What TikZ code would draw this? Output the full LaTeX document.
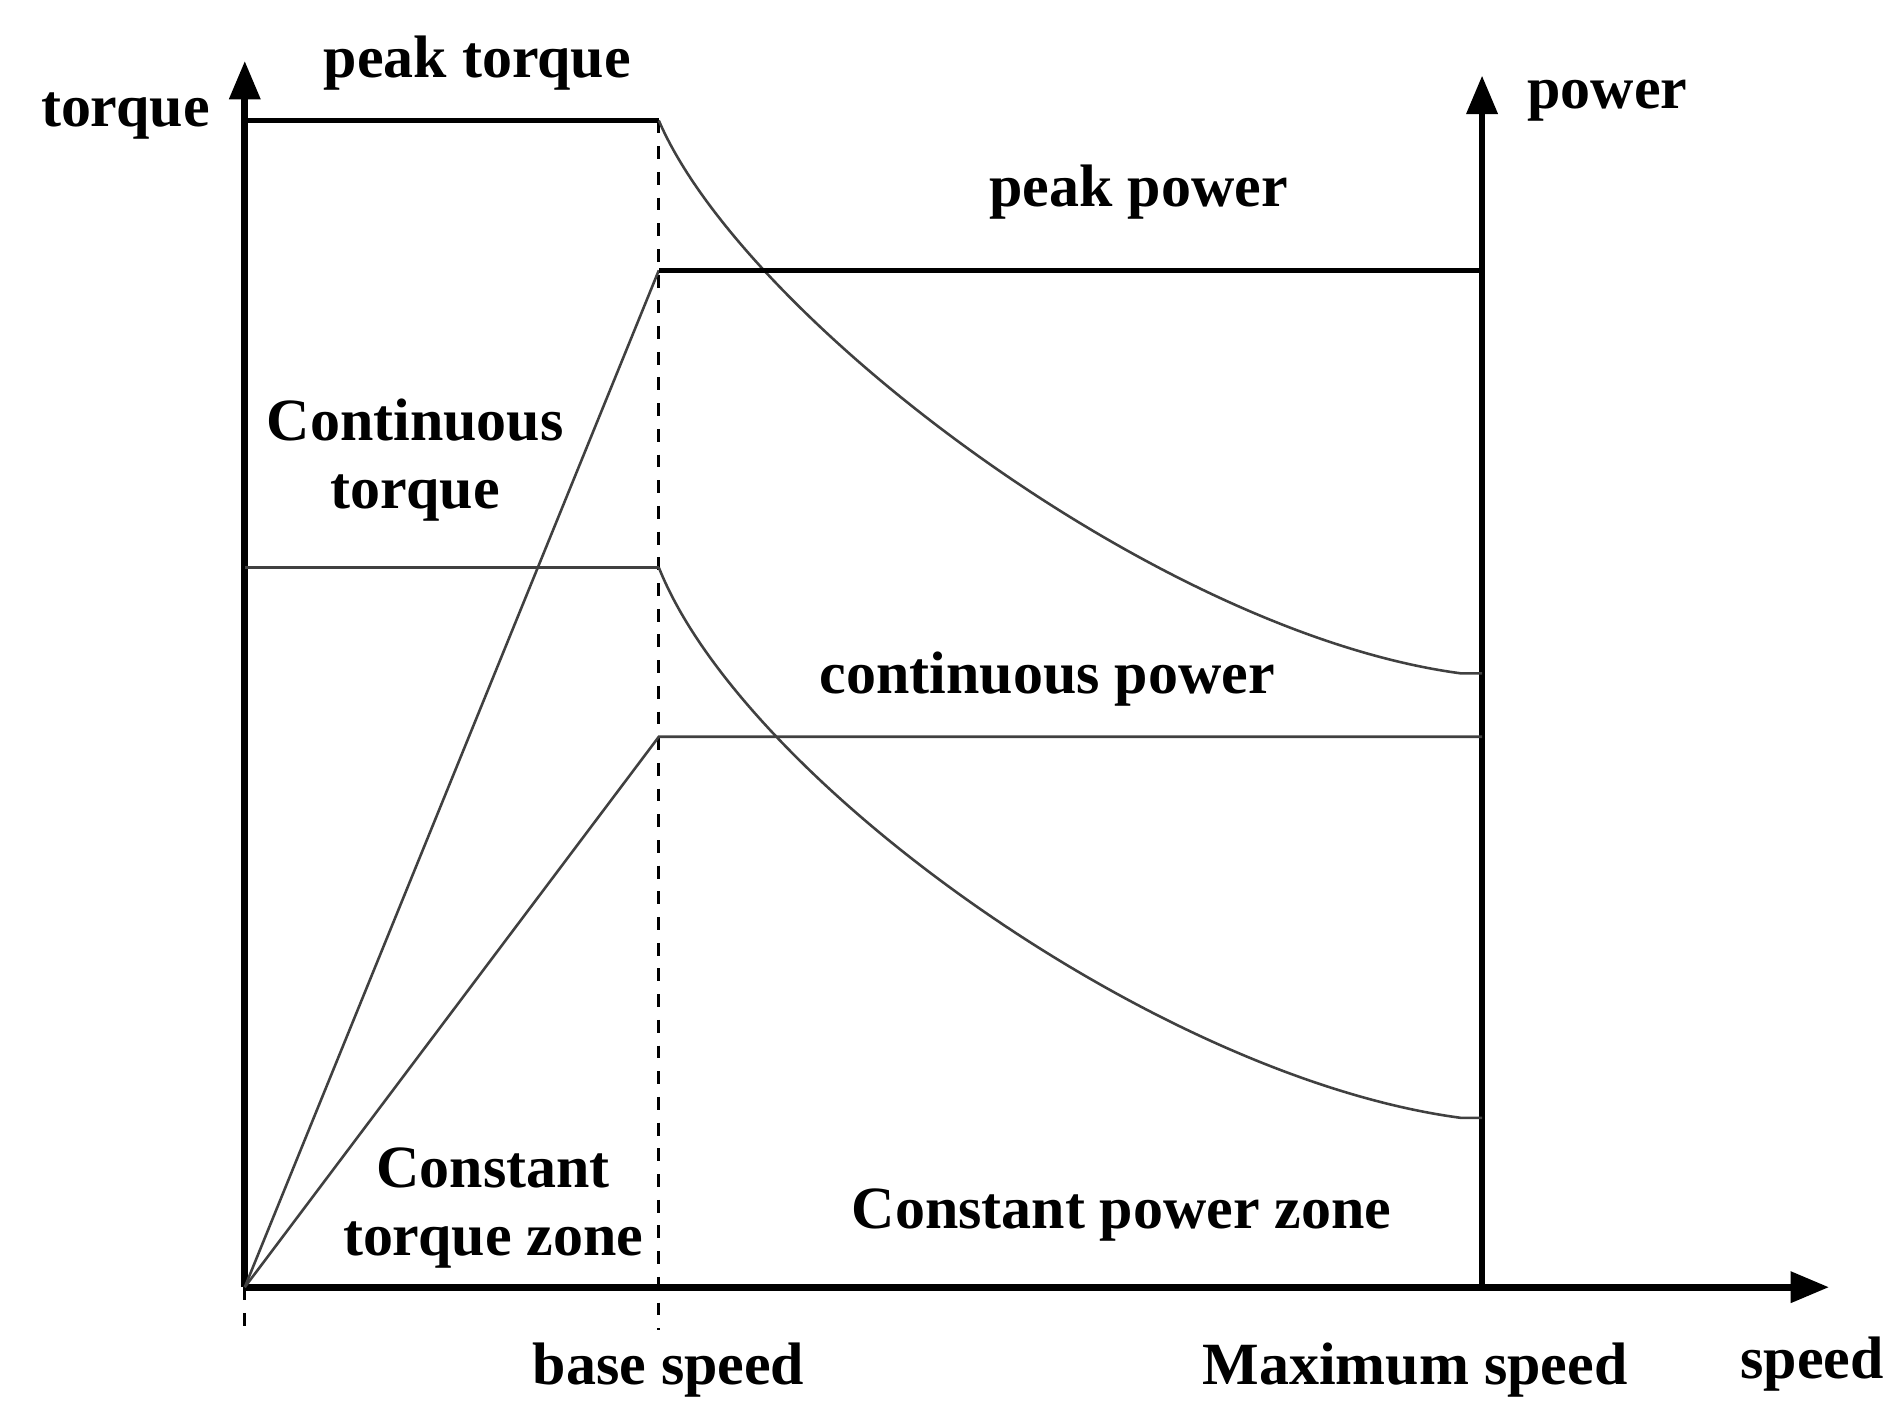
\documentclass[tikz,border=0pt]{standalone}
\usepackage{fontspec}
\setmainfont{Liberation Serif}
\usetikzlibrary{arrows.meta}
\begin{document}
\begin{tikzpicture}[x=0.01cm,y=-0.01cm,
  lbl/.style={font=\fontsize{14}{16}\selectfont\bfseries,align=center,inner sep=0pt},
  ax/.style={line width=1.6pt,-{Triangle[length=9pt,width=7pt]}},
  crv/.style={line width=0.6pt,draw=black!75},
  hl/.style={line width=1.1pt}]
\useasboundingbox (0,0) rectangle (1552,1165);
\coordinate (O) at (201,1057);
\coordinate (Ytip) at (201,50);
\coordinate (Rb) at (1217,1057);
\coordinate (Rtip) at (1217,62);
\coordinate (Xtip) at (1502,1057);
\draw[ax] (O) -- (Ytip);
\draw[ax] (Rb) -- (Rtip);
\draw[ax] (O) -- (Xtip);
% base speed dashed
\coordinate (B1) at (541,99);
\coordinate (B2) at (541,1092);
\coordinate (O2) at (201,1092);
\draw[dashed,line width=0.7pt] (B1) -- (B2);
\draw[dashed,line width=0.7pt] (O) -- (O2);
% peak torque
\coordinate (PT0) at (201,99);
\draw[hl] (PT0) -- (B1);
\coordinate (PTe) at (1200,553);
\coordinate (PTr) at (1217,553);
\draw[crv] (B1) .. controls (610,260) and (950,520) .. (PTe) -- (PTr);
% peak power
\coordinate (PP1) at (541,222);
\coordinate (PP2) at (1217,222);
\draw[crv] (O) -- (PP1);
\draw[hl] (PP1) -- (PP2);
% continuous torque
\coordinate (CT0) at (201,466);
\coordinate (CT1) at (541,466);
\draw[crv] (CT0) -- (CT1);
\coordinate (CTe) at (1200,918);
\coordinate (CTr) at (1217,918);
\draw[crv] (CT1) .. controls (610,640) and (950,885) .. (CTe) -- (CTr);
% continuous power
\coordinate (CP1) at (541,605);
\coordinate (CP2) at (1217,605);
\draw[crv] (O) -- (CP1) -- (CP2);
% labels
\node[lbl] (t1) at (103,95) {torque};
\node[lbl] (t2) at (392,52) {peak torque};
\node[lbl] (t3) at (1320,83) {power};
\node[lbl] (t4) at (935,158) {peak power};
\node[lbl] (t5) at (341,378) {Continuous\\torque};
\node[lbl] (t6) at (860,558) {continuous power};
\node[lbl] (t7) at (405,992) {Constant\\torque zone};
\node[lbl] (t8) at (921,998) {Constant power zone};
\node[lbl] (t9) at (549,1125) {base speed};
\node[lbl] (t10) at (1162,1125) {Maximum speed};
\node[lbl] (t11) at (1488,1120) {speed};
\end{tikzpicture}
\end{document}
